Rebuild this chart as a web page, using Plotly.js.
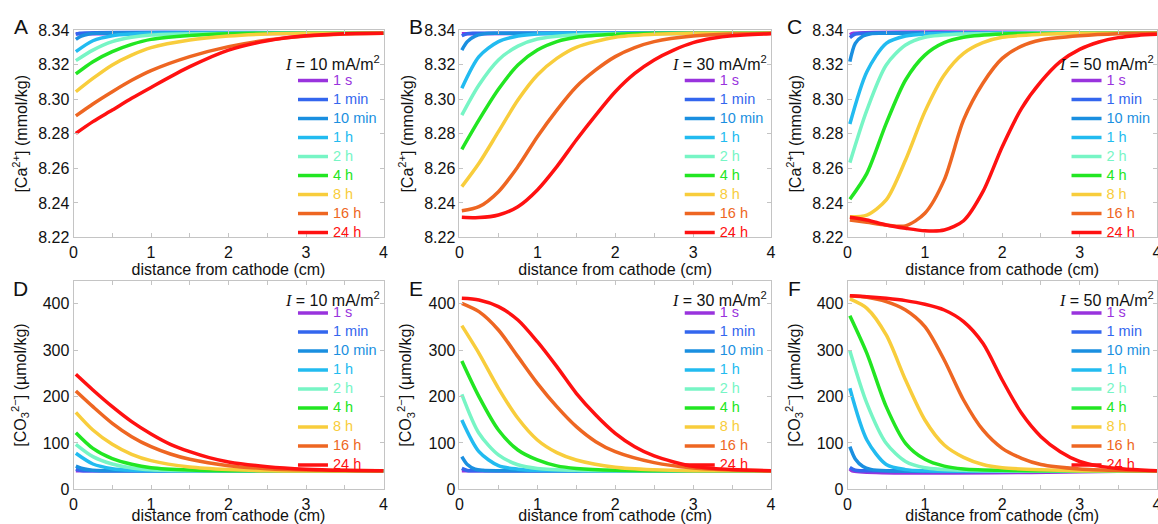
<!DOCTYPE html>
<html><head><meta charset="utf-8">
<script src="https://cdn.plot.ly/plotly-3.0.1.min.js"></script>
<style>html,body{margin:0;padding:0;background:#fff}#chart{width:1158px;height:524px}</style>
</head><body><div id="chart"></div>
<script>
// ---------------- data ----------------
const timeLabels = ['1 s', '1 min', '10 min', '1 h', '2 h', '4 h', '8 h', '16 h', '24 h'];
const currents = ['10', '30', '50'];
const seriesColors = ['#9933dd', '#3366ee', '#1a8fe0', '#22bbf0', '#77f5c5', '#22e622', '#f8cd3c', '#ee6622', '#ff1111'];
const xTickVals = [0, 1, 2, 3, 4];
const caTickVals = [8.22, 8.24, 8.26, 8.28, 8.30, 8.32, 8.34];
const caTickText = ['8.22', '8.24', '8.26', '8.28', '8.30', '8.32', '8.34'];
const coTickVals = [0, 100, 200, 300, 400];

// [Ca2+] (mmol/kg), I = 10 mA/m2
const caX_10 = [
  [0.03, 4],
  [0.03, 0.08, 4],
  [0.03, 0.1, 0.2, 0.3, 4],
  [0.03, 0.25, 0.5, 0.75, 1, 4],
  [0.03, 0.25, 0.5, 0.75, 1, 1.5, 4],
  [0.03, 0.25, 0.5, 0.75, 1, 1.5, 2, 4],
  [0.03, 0.25, 0.5, 0.75, 1, 1.5, 2, 2.5, 3, 4],
  [0.03, 0.25, 0.5, 0.75, 1, 1.5, 2, 2.5, 3, 3.5, 4],
  [0.03, 0.25, 0.5, 0.75, 1, 1.5, 2, 2.5, 3, 3.5, 4]
];
const caY_10 = [
  [8.3379, 8.3381],
  [8.3375, 8.3381, 8.3381],
  [8.3346, 8.3365, 8.3377, 8.3381, 8.3381],
  [8.3275, 8.3338, 8.3367, 8.3377, 8.3381, 8.3381],
  [8.3223, 8.3284, 8.3333, 8.3358, 8.3371, 8.3379, 8.3381],
  [8.3146, 8.3217, 8.3275, 8.3317, 8.3346, 8.3369, 8.3379, 8.3381],
  [8.3043, 8.3120, 8.3198, 8.3255, 8.3298, 8.3342, 8.3365, 8.3377, 8.3381, 8.3381],
  [8.2903, 8.2972, 8.3043, 8.3109, 8.3165, 8.3246, 8.3304, 8.3342, 8.3365, 8.3377, 8.3381],
  [8.2802, 8.2870, 8.2937, 8.3005, 8.3068, 8.3188, 8.3284, 8.3338, 8.3367, 8.3379, 8.3381]
];
// [Ca2+] (mmol/kg), I = 30 mA/m2
const caX_30 = [
  [0.03, 4],
  [0.03, 0.1, 0.2, 4],
  [0.03, 0.1, 0.2, 0.3, 0.5, 4],
  [0.03, 0.25, 0.5, 0.75, 1, 1.5, 4],
  [0.03, 0.25, 0.5, 0.75, 1, 1.5, 2, 4],
  [0.03, 0.25, 0.5, 0.75, 1, 1.25, 1.5, 2, 2.5, 4],
  [0.03, 0.25, 0.5, 0.75, 1, 1.25, 1.5, 2, 2.5, 3, 4],
  [0.03, 0.25, 0.5, 0.75, 1, 1.25, 1.5, 1.75, 2, 2.25, 2.5, 3, 3.5, 4],
  [0.03, 0.25, 0.5, 0.75, 1, 1.25, 1.5, 1.75, 2, 2.25, 2.5, 2.75, 3, 3.25, 3.5, 4]
];
const caY_30 = [
  [8.3379, 8.3381],
  [8.3367, 8.3379, 8.3381, 8.3381],
  [8.3284, 8.3333, 8.3365, 8.3377, 8.3381, 8.3381],
  [8.3063, 8.3246, 8.3333, 8.3365, 8.3377, 8.3381, 8.3381],
  [8.2908, 8.3082, 8.3227, 8.3307, 8.3348, 8.3373, 8.3379, 8.3381],
  [8.2710, 8.2880, 8.3057, 8.3198, 8.3284, 8.3333, 8.3358, 8.3375, 8.3381, 8.3381],
  [8.2494, 8.2629, 8.2812, 8.2995, 8.3140, 8.3236, 8.3300, 8.3358, 8.3375, 8.3381, 8.3381],
  [8.2355, 8.2378, 8.2465, 8.2610, 8.2783, 8.2937, 8.3072, 8.3169, 8.3246, 8.3298, 8.3333, 8.3365, 8.3377, 8.3381],
  [8.2317, 8.2315, 8.2330, 8.2378, 8.2475, 8.2610, 8.2764, 8.2908, 8.3043, 8.3149, 8.3227, 8.3284, 8.3327, 8.3352, 8.3367, 8.3379]
];
// [Ca2+] (mmol/kg), I = 50 mA/m2
const caX_50 = [
  [0.03, 0.08, 4],
  [0.03, 0.1, 0.2, 4],
  [0.03, 0.1, 0.2, 0.3, 0.5, 4],
  [0.03, 0.25, 0.5, 0.75, 1, 4],
  [0.03, 0.25, 0.5, 0.75, 1, 1.5, 4],
  [0.03, 0.25, 0.5, 0.75, 1, 1.25, 1.5, 2, 4],
  [0.03, 0.25, 0.5, 0.75, 1, 1.25, 1.5, 1.75, 2, 2.5, 3, 4],
  [0.03, 0.25, 0.5, 0.75, 1, 1.25, 1.5, 1.75, 2, 2.25, 2.5, 3, 3.5, 4],
  [0.03, 0.25, 0.5, 0.75, 1, 1.25, 1.5, 1.75, 2, 2.25, 2.5, 2.75, 3, 3.25, 3.5, 3.75, 4]
];
const caY_50 = [
  [8.3373, 8.3381, 8.3381],
  [8.3356, 8.3377, 8.3381, 8.3381],
  [8.3217, 8.3323, 8.3365, 8.3379, 8.3381, 8.3381],
  [8.2856, 8.3159, 8.3323, 8.3365, 8.3377, 8.3381],
  [8.2633, 8.2937, 8.3198, 8.3313, 8.3358, 8.3377, 8.3381],
  [8.2421, 8.2571, 8.2860, 8.3111, 8.3255, 8.3327, 8.3358, 8.3377, 8.3381],
  [8.2320, 8.2330, 8.2417, 8.2648, 8.2928, 8.3140, 8.3265, 8.3327, 8.3358, 8.3375, 8.3381, 8.3381],
  [8.2301, 8.2288, 8.2272, 8.2267, 8.2340, 8.2533, 8.2880, 8.3092, 8.3236, 8.3307, 8.3342, 8.3367, 8.3379, 8.3381],
  [8.2317, 8.2301, 8.2272, 8.2253, 8.2239, 8.2243, 8.2297, 8.2465, 8.2725, 8.2947, 8.3101, 8.3217, 8.3288, 8.3331, 8.3356, 8.3369, 8.3375]
];

// [CO3 2-] (umol/kg), I = 10 mA/m2
const coX_10 = [
  [0.03, 4],
  [0.03, 0.1, 0.2, 4],
  [0.03, 0.1, 0.2, 0.3, 0.5, 4],
  [0.03, 0.25, 0.5, 0.75, 1, 4],
  [0.03, 0.25, 0.5, 0.75, 1, 1.5, 4],
  [0.03, 0.25, 0.5, 0.75, 1, 1.5, 2, 4],
  [0.03, 0.25, 0.5, 0.75, 1, 1.5, 2, 2.5, 4],
  [0.03, 0.25, 0.5, 0.75, 1, 1.25, 1.5, 2, 2.5, 3, 4],
  [0.03, 0.25, 0.5, 0.75, 1, 1.25, 1.5, 1.75, 2, 2.5, 3, 3.5, 4]
];
const coY_10 = [
  [40, 40],
  [43, 40.5, 40, 40],
  [50, 45.5, 42, 40.5, 40, 40],
  [77.7, 54.6, 44.5, 41, 40, 40],
  [97.1, 70.5, 54.6, 46, 42, 40, 40],
  [122.2, 88.4, 66.1, 53.9, 46.5, 41.5, 40, 40],
  [166.1, 128.0, 97.1, 75.5, 61.8, 48.0, 42.5, 40, 40],
  [212.1, 178.3, 142.4, 113.6, 92.0, 76.2, 64.7, 51.0, 44.5, 41.5, 40],
  [248.1, 214.3, 178.3, 146.0, 119.4, 97.1, 81.2, 68.3, 59.0, 48.9, 43.5, 41, 40]
];
// [CO3 2-] (umol/kg), I = 30 mA/m2
const coX_30 = [
  [0.03, 4],
  [0.03, 0.1, 0.2, 4],
  [0.03, 0.1, 0.2, 0.3, 0.5, 4],
  [0.03, 0.25, 0.5, 0.75, 1, 4],
  [0.03, 0.25, 0.5, 0.75, 1, 1.5, 4],
  [0.03, 0.25, 0.5, 0.75, 1, 1.25, 1.5, 2, 4],
  [0.03, 0.25, 0.5, 0.75, 1, 1.25, 1.5, 2, 2.5, 3, 4],
  [0.03, 0.25, 0.5, 0.75, 1, 1.25, 1.5, 1.75, 2, 2.5, 3, 3.5, 4],
  [0.03, 0.25, 0.5, 0.75, 1, 1.25, 1.5, 1.75, 2, 2.25, 2.5, 2.75, 3, 3.5, 4]
];
const coY_30 = [
  [40, 40],
  [45, 40.5, 40, 40],
  [70.5, 53.5, 43.5, 41, 40, 40],
  [149.6, 81.2, 51, 43.5, 41, 40],
  [204.9, 120.8, 74.1, 53, 45, 41, 40],
  [276.8, 199.9, 128.0, 84.8, 63.3, 50.5, 45, 41, 40],
  [353.0, 293.4, 217.9, 153.2, 106.4, 79.1, 63.3, 47.5, 42, 40, 40],
  [401.2, 383.2, 343.7, 286.2, 228.6, 178.3, 135.2, 102.8, 81.2, 57.5, 46, 41.5, 40],
  [412.0, 408.4, 394.0, 365.3, 318.5, 264.6, 207.1, 160.3, 120.8, 92.0, 71.9, 59.0, 49.5, 42.5, 40]
];
// [CO3 2-] (umol/kg), I = 50 mA/m2
const coX_50 = [
  [0.03, 0.06, 4],
  [0.03, 0.1, 0.2, 4],
  [0.03, 0.1, 0.2, 0.3, 0.5, 4],
  [0.03, 0.25, 0.5, 0.75, 1, 4],
  [0.03, 0.25, 0.5, 0.75, 1, 1.5, 4],
  [0.03, 0.25, 0.5, 0.75, 1, 1.25, 1.5, 2, 4],
  [0.03, 0.25, 0.5, 0.75, 1, 1.25, 1.5, 1.75, 2, 2.5, 3, 4],
  [0.03, 0.25, 0.5, 0.75, 1, 1.25, 1.5, 1.75, 2, 2.25, 2.5, 3, 3.5, 4],
  [0.03, 0.25, 0.5, 0.75, 1, 1.25, 1.5, 1.75, 2, 2.25, 2.5, 2.75, 3, 3.25, 3.5, 3.75, 4]
];
const coY_50 = [
  [44, 40, 40],
  [47, 41, 40, 40],
  [92.0, 65.5, 49, 43, 40, 40],
  [217.9, 106.4, 53.5, 42.5, 40, 40],
  [299.1, 185.5, 99.2, 60, 46.5, 41, 40],
  [374.6, 293.4, 178.3, 99.2, 64.7, 50, 44, 41, 40],
  [410.6, 390.4, 332.9, 235.8, 149.6, 95.6, 69.0, 53.5, 46.5, 42, 40, 40],
  [417.7, 414.2, 404.8, 386.8, 350.9, 279.0, 192.7, 128.0, 88.4, 66.9, 53.5, 44, 41, 40],
  [417.7, 415.6, 412.0, 407.0, 399.1, 386.8, 361.7, 314.9, 235.8, 163.9, 113.6, 81.2, 60, 50, 45, 42, 40]
];

// ---------------- layout helpers ----------------
const FONT = 'Liberation Sans, Arial, sans-serif';
const colDomains = [[0.0635, 0.3312], [0.3968, 0.6658], [0.7319, 0.9991]];
const rowDomains = [[0.5468, 0.9427], [0.0662, 0.4643]];
const panels = [
  {xs: caX_10, ys: caY_10, row: 0, col: 0, letter: 'A'},
  {xs: caX_30, ys: caY_30, row: 0, col: 1, letter: 'B'},
  {xs: caX_50, ys: caY_50, row: 0, col: 2, letter: 'C'},
  {xs: coX_10, ys: coY_10, row: 1, col: 0, letter: 'D'},
  {xs: coX_30, ys: coY_30, row: 1, col: 1, letter: 'E'},
  {xs: coX_50, ys: coY_50, row: 1, col: 2, letter: 'F'}
];
const legendX = [0.253, 0.587, 0.921];
const legendY = [0.874, 0.4305];
const legendFontSize = [12.3, 11.7];
const letterX = [0.0181, 0.3595, 0.6857];
const letterY = [0.9485, 0.4485];
const currentX = [0.3299, 0.6641, 0.9983];
const currentY = [0.8798, 0.4294];

const axisCommon = {
  showline: true, linecolor: '#c4c4c4', linewidth: 1, mirror: 'ticks',
  ticks: 'inside', ticklen: 4, tickwidth: 1, tickcolor: '#c4c4c4',
  showgrid: false, zeroline: false, fixedrange: true,
  ticklabeloverflow: 'allow',
  tickfont: {family: FONT, size: 16, color: '#111'}
};

const traces = [];
const layout = {
  width: 1158, height: 524,
  margin: {l: 0, r: 0, t: 0, b: 0},
  paper_bgcolor: '#fff', plot_bgcolor: '#fff',
  font: {family: FONT, color: '#111'},
  annotations: []
};

panels.forEach((p, i) => {
  const s = i === 0 ? '' : String(i + 1);
  const legKey = 'legend' + s;
  p.xs.forEach((xv, k) => {
    traces.push({
      type: 'scatter', mode: 'lines',
      x: xv, y: p.ys[k],
      xaxis: 'x' + s, yaxis: 'y' + s,
      name: '<span style="color:' + seriesColors[k] + ';font-size:14.5px">' + timeLabels[k] + '</span>',
      legend: legKey,
      line: {color: seriesColors[k], width: 3.5, shape: 'spline', smoothing: 0.8},
      hoverinfo: 'skip'
    });
  });
  layout['xaxis' + s] = Object.assign({}, axisCommon, {
    domain: colDomains[p.col], range: [0, 4], anchor: 'y' + s,
    tickmode: 'array', tickvals: xTickVals,
    minor: {dtick: 0.5, ticks: 'inside', ticklen: 4, tickcolor: '#c4c4c4', showgrid: false},
    title: {text: 'distance from cathode (cm)', font: {family: FONT, size: 16, color: '#111'}, standoff: p.row ? 3 : 4}
  });
  layout['yaxis' + s] = Object.assign({}, axisCommon, {
    domain: rowDomains[p.row], anchor: 'x' + s,
    range: p.row ? [0, 450] : [8.22, 8.34],
    tickmode: 'array',
    tickvals: p.row ? coTickVals : caTickVals,
    ticktext: p.row ? coTickVals.map(String) : caTickText,
    title: {
      text: p.row ? '[CO<sub>3</sub><sup>2\u2212</sup>] (\u00b5mol/kg)' : '[Ca<sup>2+</sup>] (mmol/kg)',
      font: {family: FONT, size: 16, color: '#111'}, standoff: p.row ? 12 : 6
    }
  });
  layout[legKey] = {
    x: legendX[p.col], y: legendY[p.row], xanchor: 'left', yanchor: 'top',
    xref: 'paper', yref: 'paper',
    bgcolor: 'rgba(0,0,0,0)', borderwidth: 0, itemwidth: 30,
    font: {family: FONT, size: legendFontSize[p.row]}, tracegroupgap: 0
  };
  layout.annotations.push({
    xref: 'paper', yref: 'paper', x: letterX[p.col], y: letterY[p.row],
    xanchor: 'center', yanchor: 'middle', showarrow: false,
    text: p.letter, font: {family: FONT, size: 21, color: '#111'}
  });
  layout.annotations.push({
    xref: 'paper', yref: 'paper', x: currentX[p.col], y: currentY[p.row],
    xanchor: 'right', yanchor: 'middle', showarrow: false,
    text: '<span style="font-family:Liberation Serif,Times New Roman,serif;font-style:italic">I</span> = ' + currents[p.col] + ' mA/m<sup>2</sup>',
    font: {family: FONT, size: 16, color: '#111'}
  });
});

Plotly.newPlot('chart', traces, layout, {staticPlot: true, displayModeBar: false});
</script>
</body></html>
